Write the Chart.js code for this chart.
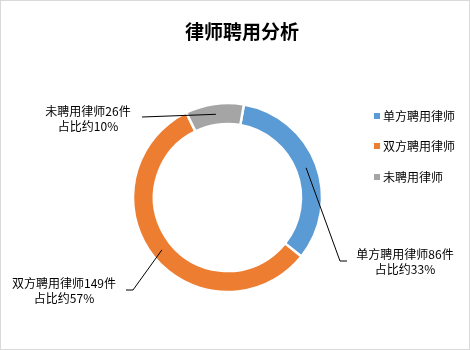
<!DOCTYPE html>
<html>
<head>
<meta charset="utf-8">
<script src="https://cdn.jsdelivr.net/npm/chart.js@4"></script>
<style>
  html, body { margin: 0; padding: 0; background: #fff; }
  #wrap { width: 470px; height: 350px; position: relative; }
</style>
</head>
<body>
<div id="wrap"><canvas id="chart-lawyer"></canvas></div>
<script>
const chartTitle = "律师聘用分析";
const categories = ["单方聘用律师", "双方聘用律师", "未聘用律师"];
const counts = [86, 149, 26];
const shares = ["33%", "57%", "10%"];
const colors = ["#5B9BD5", "#ED7D31", "#A5A5A5"];

const fontCJK = "'Noto Sans CJK SC', 'Noto Sans', sans-serif";

// where each data label sits and how its leader line bends
const labelLayout = [
  { elbow: [340, 261], tail: [347, 261], text: [405, 254] },
  { elbow: [133, 290], tail: [126, 290], text: [64, 283] },
  { elbow: [142, 117], tail: null, text: [88, 111] },
];

const extras = {
  id: "extras",
  afterDraw(chart) {
    const c = chart.ctx;
    c.save();

    // frame
    c.strokeStyle = "#d9d9d9";
    c.lineWidth = 1;
    c.strokeRect(0.5, 0.5, chart.width - 1, chart.height - 1);

    // title
    c.fillStyle = "#000";
    c.font = "bold 19px " + fontCJK;
    c.textAlign = "center";
    c.textBaseline = "middle";
    c.fillText(chartTitle, 242, 32);

    // legend
    c.font = "12px " + fontCJK;
    c.textAlign = "left";
    const legendY = [116, 146, 177];
    categories.forEach((name, i) => {
      c.fillStyle = colors[i];
      c.fillRect(374, legendY[i] - 3, 6, 6);
      c.fillStyle = "#000";
      c.fillText(name, 383, legendY[i]);
    });

    // data labels with leader lines
    const arcs = chart.getDatasetMeta(0).data;
    arcs.forEach((arc, i) => {
      const p = arc.getProps(["x", "y", "startAngle", "endAngle", "innerRadius", "outerRadius"], true);
      const mid = (p.startAngle + p.endAngle) / 2;
      const r = (p.innerRadius + p.outerRadius) / 2;
      const ax = p.x + Math.cos(mid) * r;
      const ay = p.y + Math.sin(mid) * r;
      const lay = labelLayout[i];

      c.strokeStyle = "#000";
      c.lineWidth = 1;
      c.beginPath();
      c.moveTo(ax, ay);
      c.lineTo(lay.elbow[0], lay.elbow[1]);
      if (lay.tail) c.lineTo(lay.tail[0], lay.tail[1]);
      c.stroke();

      c.fillStyle = "#000";
      c.font = "12px " + fontCJK;
      c.textAlign = "center";
      c.fillText(categories[i] + counts[i] + "件", lay.text[0], lay.text[1]);
      c.fillText("占比约" + shares[i], lay.text[0], lay.text[1] + 15);
    });

    c.restore();
  }
};

new Chart(document.getElementById("chart-lawyer"), {
  type: "doughnut",
  data: {
    labels: categories,
    datasets: [{
      data: counts,
      backgroundColor: colors,
      borderColor: "#ffffff",
      borderWidth: 2.5,
      hoverOffset: 0,
    }]
  },
  options: {
    responsive: true,
    maintainAspectRatio: false,
    animation: false,
    rotation: 10,
    radius: 94.5,
    cutout: "77.8%",
    layout: { padding: { left: 0, right: 15, top: 45, bottom: 0 } },
    plugins: {
      legend: { display: false },
      title: { display: false },
      tooltip: { enabled: false },
    },
  },
  plugins: [extras],
});
</script>
</body>
</html>
